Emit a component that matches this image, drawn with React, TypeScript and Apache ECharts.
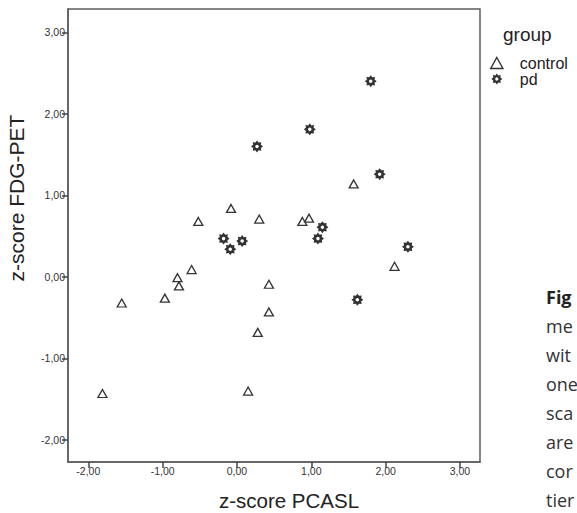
import React, { useEffect, useRef } from "react";
import * as echarts from "echarts";

const tickValues = [-2, -1, 0, 1, 2, 3];

const controlX = [-1.81, -1.55, -0.97, -0.8, -0.78, -0.61, -0.52, -0.08, 0.3, 0.43, 0.43, 0.28, 0.15, 0.88, 0.97, 1.57, 2.12];
const controlY = [-1.43, -0.32, -0.26, -0.01, -0.11, 0.09, 0.68, 0.84, 0.71, -0.09, -0.43, -0.68, -1.4, 0.68, 0.72, 1.14, 0.13];

const pdX = [0.27, 1.8, 0.98, 1.92, -0.18, -0.09, 0.07, 1.15, 1.09, 2.3, 1.62];
const pdY = [1.6, 2.4, 1.81, 1.26, 0.47, 0.34, 0.44, 0.61, 0.47, 0.37, -0.28];

const captionLines = ["me", "wit", "one", "sca", "are", "cor", "tier"];

const starPath =
  "path://M10,0L12.68,3.53L17.07,2.93L16.47,7.32L20,10L16.47,12.68L17.07,17.07L12.68,16.47L10,20L7.32,16.47L2.93,17.07L3.53,12.68L0,10L3.53,7.32L2.93,2.93L7.32,3.53Z" +
  "M10,7L7.88,7.88L7,10L7.88,12.12L10,13L12.12,12.12L13,10L12.12,7.88Z";
const triPath = "path://M5,0L10,9L0,9Z";

const fmt = (v: number) => v.toFixed(2).replace(".", ",");

export default function App() {
  const ref = useRef<HTMLDivElement>(null);
  useEffect(() => {
    if (!ref.current) return;
    const chart = echarts.init(ref.current, null, { renderer: "svg" });
    const axisColor = "#5e5e5e";
    const font = "Liberation Sans";
    const axisCommon = {
      type: "value" as const,
      splitLine: { show: false },
      axisLine: { show: true, onZero: false, lineStyle: { color: axisColor, width: 1.5 } },
      axisTick: { show: true, customValues: tickValues, length: 6, lineStyle: { color: "#444", width: 1.5 } },
      axisLabel: {
        customValues: tickValues,
        formatter: (v: number) => fmt(v),
        fontSize: 10.5,
        color: "#333",
        fontFamily: font,
        margin: 3,
      },
    };
    chart.setOption({
      animation: false,
      grid: {
        left: 68,
        top: 9,
        right: 97,
        bottom: 51,
        show: true,
        borderColor: axisColor,
        borderWidth: 1.5,
      },
      xAxis: { ...axisCommon, min: -2.273, max: 3.27 },
      yAxis: { ...axisCommon, min: -2.27, max: 3.286 },
      legend: {
        orient: "vertical",
        left: 485,
        top: 50,
        itemWidth: 28,
        itemHeight: 11,
        itemGap: 0,
        selectedMode: false,
        textStyle: { fontSize: 16, color: "#222", fontFamily: font, padding: [0, 0, 0, 4] },
        data: [
          { name: "control", icon: triPath, itemStyle: { color: "#fff", borderColor: "#333", borderWidth: 1.4 } },
          { name: "pd", icon: starPath, itemStyle: { color: "#333", borderWidth: 0 } },
        ],
      },
      series: [
        {
          name: "control",
          type: "scatter",
          symbol: "triangle",
          symbolSize: [9, 8],
          itemStyle: { color: "#fff", borderColor: "#333", borderWidth: 1.3, opacity: 1 },
          data: controlX.map((x, i) => [x, controlY[i]]),
        },
        {
          name: "pd",
          type: "scatter",
          symbol: starPath,
          symbolSize: 12,
          itemStyle: { color: "#333", opacity: 1 },
          data: pdX.map((x, i) => [x, pdY[i]]),
        },
      ],
      graphic: [
        {
          type: "text",
          x: 289,
          y: 500,
          style: {
            text: "z-score PCASL",
            fontSize: 20.5,
            fill: "#222",
            fontFamily: font,
            align: "center",
            verticalAlign: "middle",
          },
        },
        {
          type: "text",
          x: 16,
          y: 198,
          rotation: Math.PI / 2,
          style: {
            text: "z-score FDG-PET",
            fontSize: 21,
            fill: "#222",
            fontFamily: font,
            align: "center",
            verticalAlign: "middle",
          },
        },
        {
          type: "text",
          left: 503,
          top: 25,
          style: { text: "group", fontSize: 19, fill: "#222", fontFamily: font },
        },
        {
          type: "text",
          x: 546,
          y: 297,
          style: { text: "Fig", fontSize: 18, fontWeight: "bold", fill: "#222", fontFamily: "Open Sans", verticalAlign: "middle" },
        },
        ...captionLines.map((t, i) => ({
          type: "text",
          x: 546,
          y: 326 + i * 29,
          style: { text: t, fontSize: 18, fill: "#333", fontFamily: "Open Sans", verticalAlign: "middle" },
        })),
      ],
    });
    return () => chart.dispose();
  }, []);
  return <div ref={ref} style={{ position: "absolute", left: 0, top: 0, width: 577, height: 513 }} />;
}
